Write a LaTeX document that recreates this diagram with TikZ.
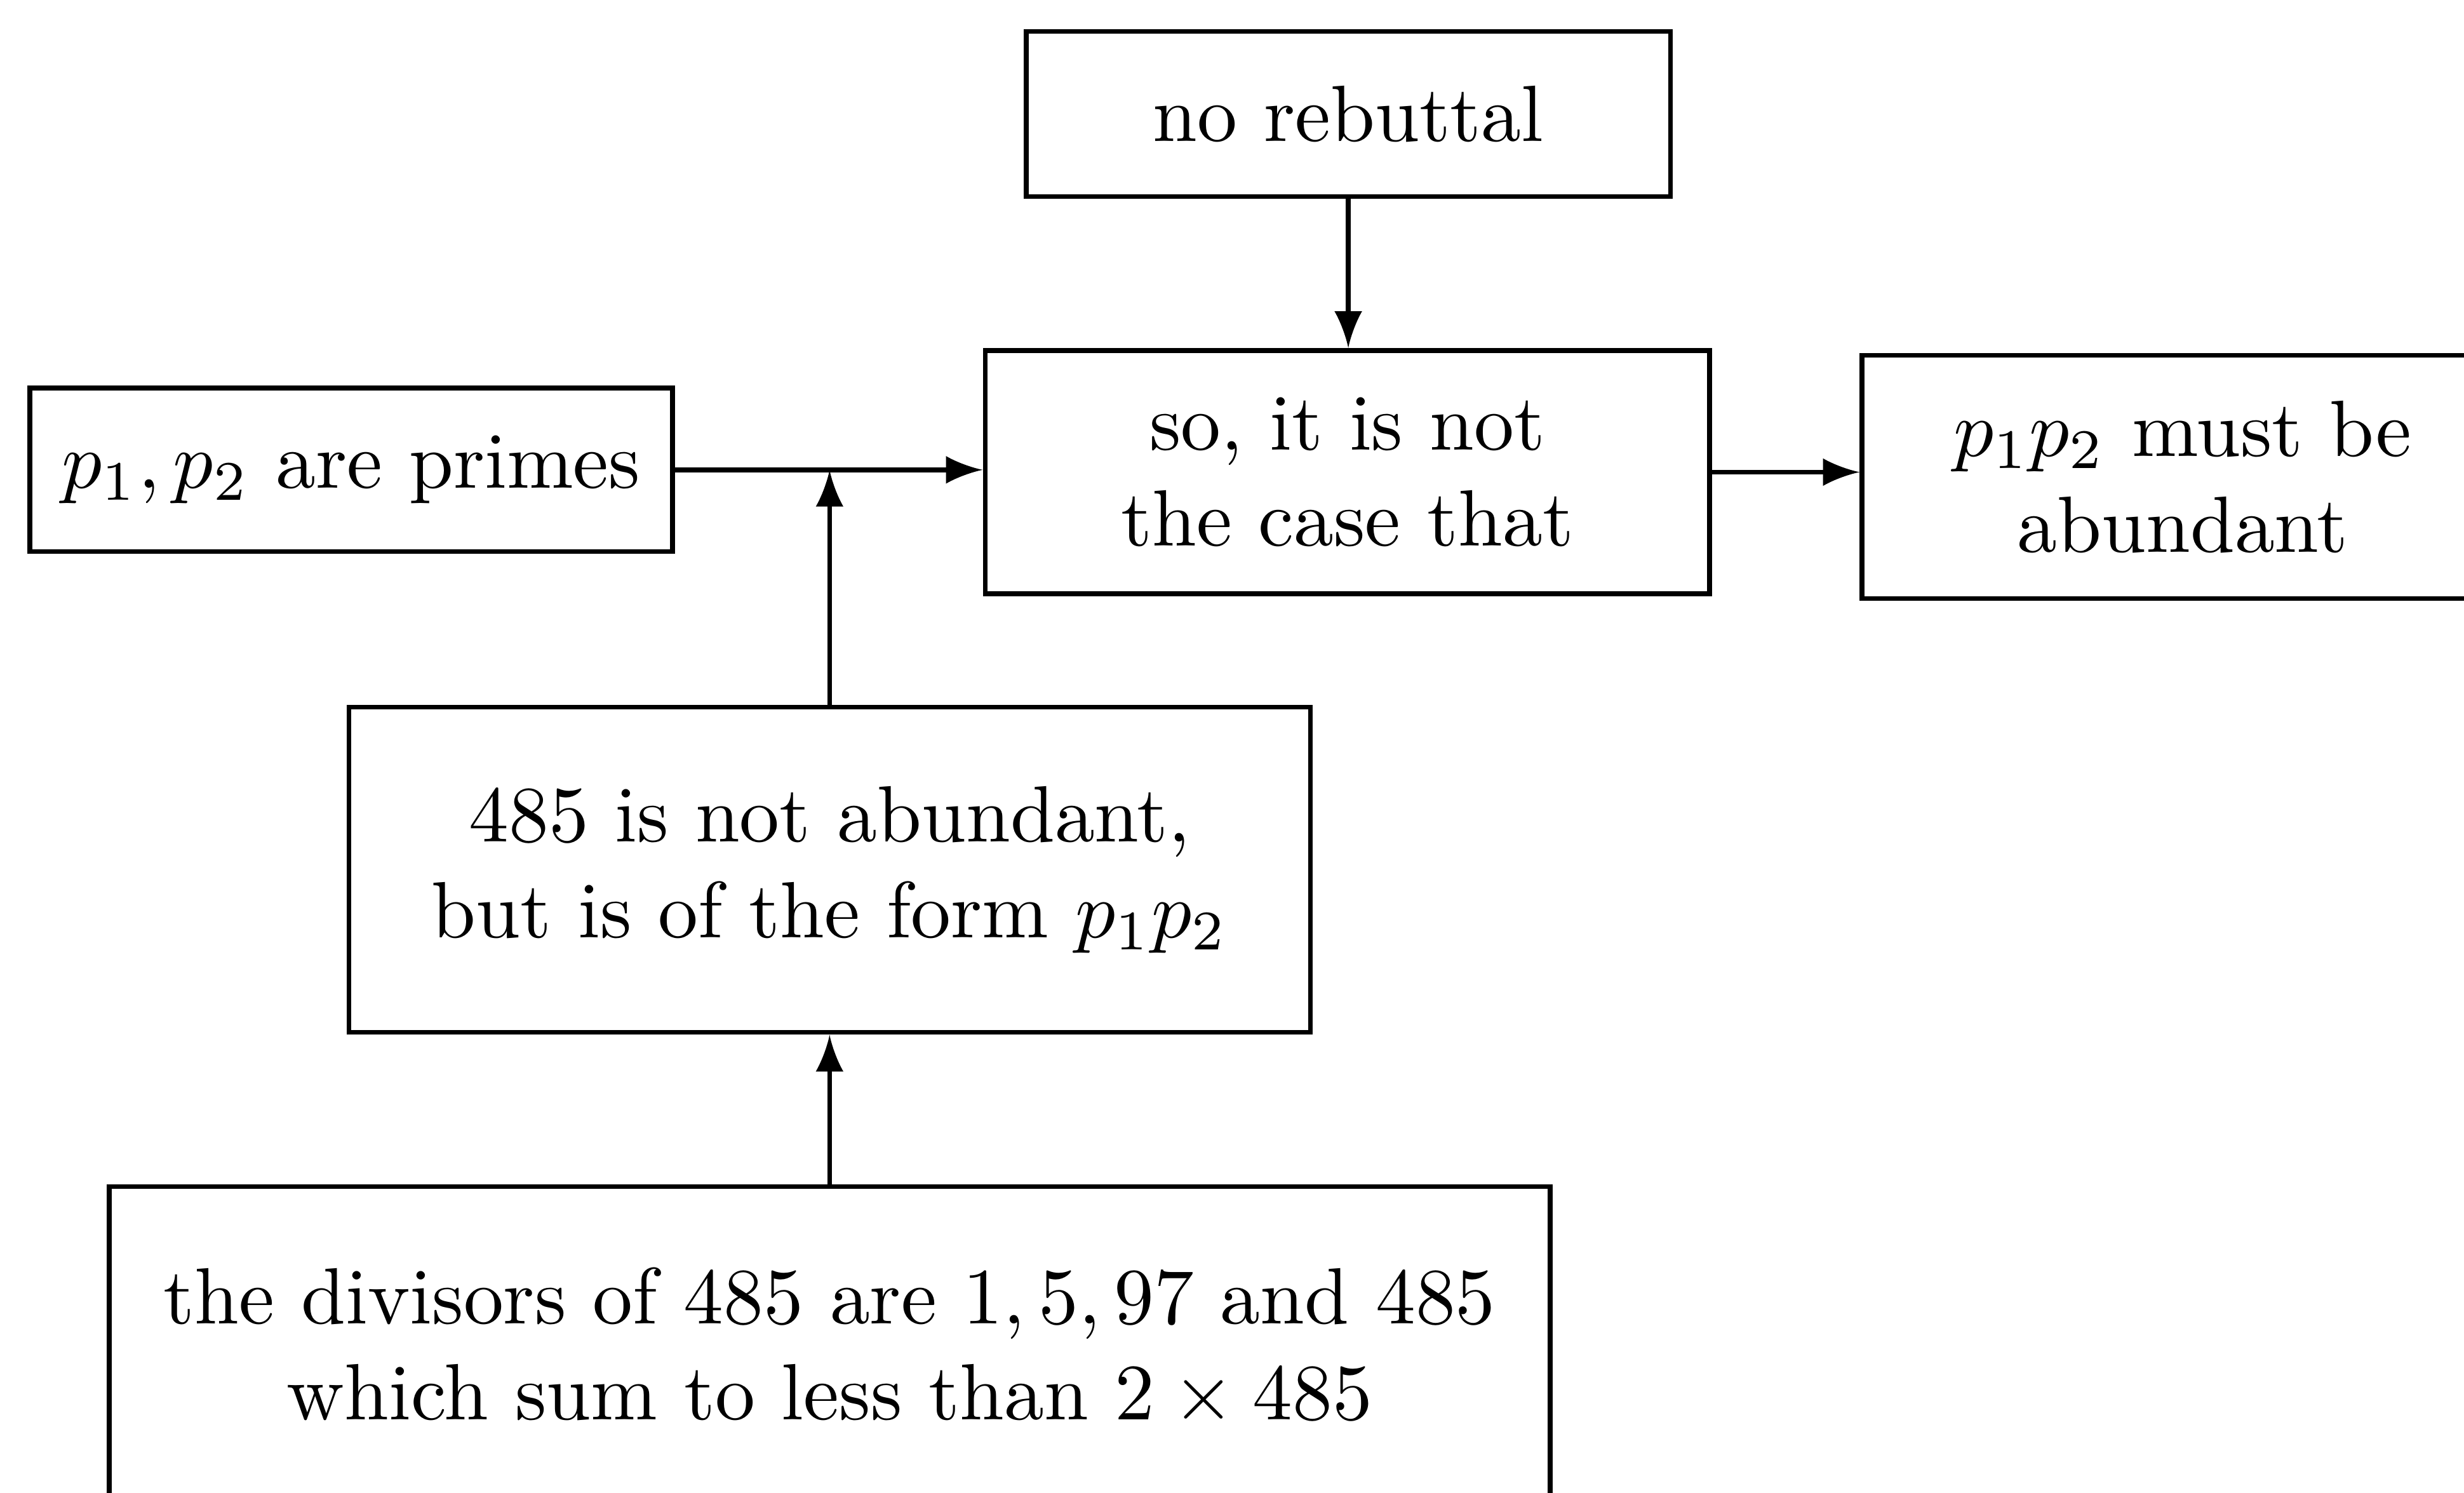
\documentclass[tikz,border=0pt]{standalone}
\usepackage{amsmath,amsfonts,amssymb}
\usepackage{tikz}

\begin{document}
\begin{tikzpicture}[line width=0.6pt, >=latex,
  box/.style={draw, align=center, inner sep=0pt}]
  \useasboundingbox (0,0) rectangle (10.85,-6.573);
  \node[box, minimum width=2.837cm, minimum height=0.726cm] (rebuttal) at (5.937,-0.502) {no rebuttal};
  \node[box, minimum width=3.190cm, minimum height=1.072cm] (sonot) at (5.933,-2.079) {so, it is not\\the case that};
  \node[box, minimum width=2.830cm, minimum height=0.720cm] (primes) at (1.546,-2.069) {$p_1,p_2$ are primes};
  \node[box, minimum width=2.823cm, minimum height=1.072cm] (abundant) at (9.611,-2.100) {$p_1p_2$ must be\\abundant};
  \node[box, minimum width=4.234cm, minimum height=1.432cm] (notabund) at (3.653,-3.830) {485 is not abundant,\\but is of the form $p_1p_2$};
  \node[box, minimum width=6.345cm, minimum height=1.411cm] (divisors) at (3.653,-5.930) {the divisors of 485 are $1,5,97$ and 485\\which sum to less than $2\times485$};
  \coordinate (join) at (primes.east -| notabund.north);
  \draw[->] (rebuttal.south) -- (rebuttal.south |- sonot.north);
  \draw[->] (primes.east) -- (primes.east -| sonot.west);
  \draw[->] (notabund.north) -- (join);
  \draw[->] (sonot.east) -- (sonot.east -| abundant.west);
  \draw[->] (divisors.north) -- (notabund.south);
\end{tikzpicture}
\end{document}
